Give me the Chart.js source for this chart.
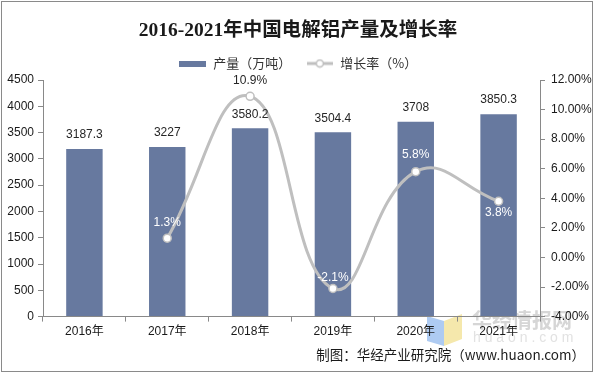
<!DOCTYPE html>
<html>
<head>
<meta charset="utf-8">
<script src="https://cdn.jsdelivr.net/npm/chart.js@4"></script>
<style>
  html, body { margin: 0; padding: 0; background: #fff; }
  #wrap { width: 596px; height: 374px; }
</style>
</head>
<body>
<div id="wrap"><canvas id="chart" width="596" height="374"></canvas></div>
<script>
// data
const years = ['2016年', '2017年', '2018年', '2019年', '2020年', '2021年'];
const output = [3187.3, 3227, 3580.2, 3504.4, 3708, 3850.3];   // 万吨
const growth = [null, 1.3, 10.9, -2.1, 5.8, 3.8];              // %
const outputTicks = [0, 500, 1000, 1500, 2000, 2500, 3000, 3500, 4000, 4500];
const growthTicks = [-4, -2, 0, 2, 4, 6, 8, 10, 12];

// label styling for the growth line (above / below the point, colour)
const growthLabelShift = [0, -16, -16, -11, -17, 11];
const growthLabelColor = ['#fff', '#fff', '#262626', '#fff', '#fff', '#fff'];

const barColor = '#67799f';
const lineColor = '#bfbfbf';
const axisColor = '#898989';
const sans = "'Liberation Sans', 'Noto Sans CJK SC', sans-serif";
const cjk = "'Noto Sans CJK SC', sans-serif";
const plotTop = 80;

function barSwatch() {
  const c = document.createElement('canvas');
  c.width = 27; c.height = 6;
  const g = c.getContext('2d');
  g.fillStyle = barColor;
  g.fillRect(0, 0, 27, 6);
  return c;
}

function lineSwatch() {
  const c = document.createElement('canvas');
  c.width = 26; c.height = 10;
  const g = c.getContext('2d');
  g.strokeStyle = lineColor;
  g.lineWidth = 3;
  g.beginPath(); g.moveTo(0, 5); g.lineTo(26, 5); g.stroke();
  g.beginPath(); g.arc(13, 5, 3.5, 0, Math.PI * 2);
  g.fillStyle = '#fff'; g.fill();
  g.lineWidth = 1.5; g.stroke();
  return c;
}
const swatches = [barSwatch(), lineSwatch()];

const valueLabels = {
  id: 'valueLabels',
  afterDatasetsDraw(chart) {
    const ctx = chart.ctx;
    ctx.save();
    ctx.font = '12px ' + sans;
    ctx.textAlign = 'center';
    ctx.textBaseline = 'middle';
    chart.getDatasetMeta(0).data.forEach((el, i) => {
      ctx.fillStyle = '#262626';
      ctx.fillText(String(output[i]), el.x, el.y - 14);
    });
    chart.getDatasetMeta(1).data.forEach((el, i) => {
      if (growth[i] === null) return;
      ctx.fillStyle = growthLabelColor[i];
      ctx.fillText(growth[i].toFixed(1) + '%', el.x, el.y + growthLabelShift[i]);
    });
    ctx.restore();
  }
};

const frame = {
  id: 'frame',
  beforeDraw(chart) {
    // faint watermark in the bottom right corner
    const ctx = chart.ctx;
    ctx.save();
    ctx.fillStyle = '#aecbf2';
    ctx.beginPath();
    ctx.moveTo(427, 316); ctx.lineTo(444, 321); ctx.lineTo(444, 346); ctx.lineTo(427, 341);
    ctx.closePath(); ctx.fill();
    ctx.fillStyle = '#f5e8ac';
    ctx.beginPath();
    ctx.moveTo(444, 321); ctx.lineTo(462, 314); ctx.lineTo(462, 339); ctx.lineTo(444, 346);
    ctx.closePath(); ctx.fill();
    ctx.fillStyle = '#d6d6d6';
    ctx.textBaseline = 'middle';
    ctx.textAlign = 'left';
    ctx.font = 'bold 20px ' + cjk;
    ctx.fillText('华经情报网', 472, 320);
    ctx.fillStyle = '#e2e2e2';
    ctx.font = '14px ' + sans;
    ctx.fillText('h u a o n . c o m', 473, 338);
    ctx.restore();
  },
  afterDraw(chart) {
    const ctx = chart.ctx;
    ctx.save();
    ctx.strokeStyle = '#8a8a8a';
    ctx.lineWidth = 1;
    ctx.strokeRect(1.5, 1.5, 591, 370);
    ctx.fillStyle = '#1a1a1a';
    ctx.font = '13.5px ' + cjk;
    ctx.textAlign = 'right';
    ctx.textBaseline = 'middle';
    ctx.fillText('制图：华经产业研究院（www.huaon.com）', 585, 355);
    ctx.restore();
  }
};

new Chart(document.getElementById('chart'), {
  data: {
    labels: years,
    datasets: [
      {
        type: 'bar',
        label: '产量（万吨）',
        data: output,
        yAxisID: 'y',
        backgroundColor: barColor,
        barPercentage: 0.44,
        categoryPercentage: 1,
        order: 1
      },
      {
        type: 'line',
        label: '增长率（%）',
        data: growth,
        yAxisID: 'y1',
        borderColor: lineColor,
        borderWidth: 3,
        tension: 0.45,
        pointRadius: 4,
        pointBackgroundColor: '#fff',
        pointBorderColor: lineColor,
        pointBorderWidth: 1.5,
        order: 0
      }
    ]
  },
  plugins: [frame, valueLabels],
  options: {
    responsive: false,
    animation: false,
    layout: { padding: { top: 0, left: 0, right: 0, bottom: 32 } },
    plugins: {
      tooltip: { enabled: false },
      title: {
        display: true,
        text: '2016-2021年中国电解铝产量及增长率',
        color: '#1a1a1a',
        font: { family: "'Liberation Serif', 'Noto Sans CJK SC', serif", size: 19.5, weight: 'bold' },
        padding: { top: 13, bottom: 0 }
      },
      legend: {
        position: 'top',
        labels: {
          usePointStyle: true,
          pointStyleWidth: 28,
          padding: 14.5,
          color: '#333',
          font: { family: cjk, size: 13 },
          sort: (a, b) => a.datasetIndex - b.datasetIndex,
          generateLabels(chart) {
            const items = Chart.defaults.plugins.legend.labels.generateLabels(chart);
            items.forEach(it => { it.pointStyle = swatches[it.datasetIndex]; });
            return items;
          }
        }
      }
    },
    scales: {
      x: {
        grid: { drawOnChartArea: false, offset: true, tickLength: 5, color: axisColor },
        border: { color: axisColor },
        ticks: { color: '#1a1a1a', font: { family: sans, size: 12 }, padding: 3 }
      },
      y: {
        position: 'left',
        min: outputTicks[0],
        max: outputTicks[outputTicks.length - 1],
        ticks: {
          stepSize: outputTicks[1] - outputTicks[0],
          color: '#1a1a1a',
          font: { family: sans, size: 12 },
          padding: 4,
          callback: v => String(v)
        },
        grid: { drawOnChartArea: false, tickLength: 5, color: axisColor },
        border: { color: axisColor },
        afterFit(s) { s.width = 43; s.paddingTop = plotTop; }
      },
      y1: {
        position: 'right',
        min: growthTicks[0],
        max: growthTicks[growthTicks.length - 1],
        ticks: {
          stepSize: growthTicks[1] - growthTicks[0],
          color: '#1a1a1a',
          font: { family: sans, size: 12 },
          padding: 6,
          callback: v => v.toFixed(2) + '%'
        },
        grid: { drawOnChartArea: false, tickLength: 5, color: axisColor },
        border: { color: axisColor },
        afterFit(s) { s.width = 56; }
      }
    }
  }
});
</script>
</body>
</html>
